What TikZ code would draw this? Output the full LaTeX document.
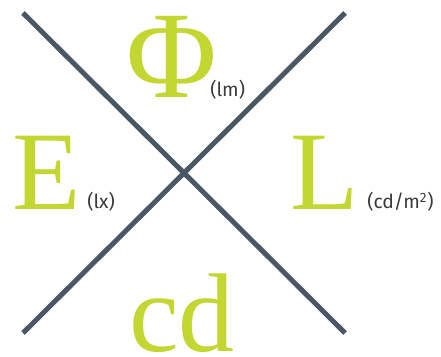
\documentclass[tikz,border=0pt]{standalone}
\usepackage{fontspec}
\setmainfont{Liberation Serif}
\newfontfamily\unitfont{Fira Sans}
\definecolor{lime}{RGB}{196,214,50}
\definecolor{slate}{RGB}{74,87,101}
\definecolor{unitgray}{RGB}{58,58,58}
\begin{document}
\begin{tikzpicture}[
  x=0.75pt,y=0.75pt,
  bar/.style={slate,line width=3.75pt},
  quantity/.style={lime,inner sep=0pt,anchor=base,font=\fontsize{84}{84}\selectfont},
  unit/.style={unitgray,inner sep=0pt,anchor=base west,font=\unitfont\fontsize{14.5}{14.5}\selectfont}
]
  \useasboundingbox (0,0) rectangle (441,356);

  % Corners of the cross, meeting near (184,183).
  \coordinate (tl) at (23,343);
  \coordinate (tr) at (345,343);
  \coordinate (bl) at (23,23);
  \coordinate (br) at (345,23);
  \draw[bar] (tl) -- (br);
  \draw[bar] (tr) -- (bl);

  % Quantities in the four quarters.
  \node[quantity,font=\fontsize{93}{93}\selectfont] (flux) at (172,258) {Φ};
  \node[quantity,anchor=base west] (illum) at (12,146) {E};
  \node[quantity,anchor=base west] (lumin) at (290,146) {L};
  \node[quantity] (intens) at (182,5) {cd};

  % Units beside them.
  \node[unit] (fluxunit) at (210,259) {(lm)};
  \node[unit] (illumunit) at (87,147) {(lx)};
  \node[unit] (luminunit) at (367,147) {(cd/m\textsuperscript{2})};
\end{tikzpicture}
\end{document}
